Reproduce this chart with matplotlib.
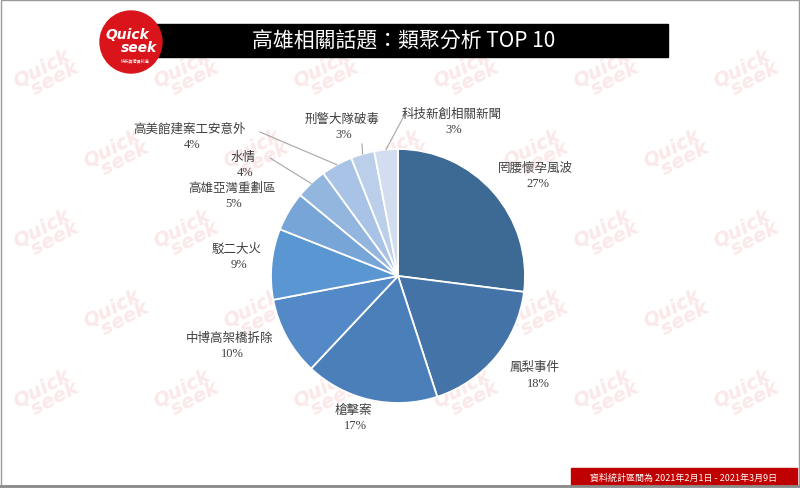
import matplotlib
matplotlib.use('Agg')
from matplotlib import pyplot as plt
from matplotlib.patches import Rectangle, Circle
import numpy as np

plt.rcParams['font.family'] = ['Noto Sans CJK TC', 'DejaVu Sans']

# data
topics = ['罔腰懷孕風波', '鳳梨事件', '槍擊案', '中博高架橋拆除', '駁二大火',
          '高雄亞灣重劃區', '水情', '高美館建案工安意外', '刑警大隊破毒', '科技新創相關新聞']
shares = [27, 18, 17, 10, 9, 5, 4, 4, 3, 3]
colors = ['#3d6a94', '#4473a8', '#4a7fb9', '#5289c6', '#5a96d2',
          '#77a5d8', '#93b6df', '#a8c3e5', '#bccfea', '#d2ddf0']

title = '高雄相關話題：類聚分析 TOP 10'
footer = '資料統計區間為 2021年2月1日 - 2021年3月9日'

W, H = 800, 489

def px(x, y):
    # pixel coords (y from top) -> axes coords
    return x, H - y

# label positions (name centre, pixel coords from top)
label_pos = [(535, 168), (535, 368), (353, 410), (230, 338), (237, 249),
             (232, 188), (243, 157), (190, 129), (342, 119), (452, 114)]
# leader lines start (only small slices)
leader_start = {6: (270, 159), 7: (260, 133), 8: (362, 145), 9: (405, 115)}

fig = plt.figure(figsize=(8, 4.89), dpi=100)
ax = fig.add_axes([0, 0, 1, 1])

# watermark
for row, yy in enumerate(range(75, H - 20, 80)):
    off = (row % 2) * 70
    for xx in range(45 + off, W - 30, 140):
        ax.text(xx, H - yy, 'Quick\n  seek', fontsize=14, fontweight='bold', style='italic',
                color='#fbe8e8', rotation=28, ha='center', va='center',
                linespacing=0.75, zorder=0, family='DejaVu Sans')

cx, cy = px(398, 277)
wedges, _ = ax.pie(shares, colors=colors, startangle=90, counterclock=False,
                   center=(cx, cy), radius=127, frame=True,
                   wedgeprops=dict(edgecolor='white', linewidth=1.3))
ax.set_xlim(0, W)
ax.set_ylim(0, H)
ax.axis('off')

for i, (name, val) in enumerate(zip(topics, shares)):
    lx, ly = px(*label_pos[i])
    ax.text(lx, ly, name, fontsize=9, color='#404040', ha='center', va='center', zorder=5)
    ax.text(lx + (3 if i < 2 else 2), ly - 16, f'{val}%', fontsize=9, color='#404040',
            ha='center', va='center', zorder=5, family='Liberation Serif')
    if i in leader_start:
        w = wedges[i]
        mid = np.deg2rad((w.theta1 + w.theta2) / 2)
        ex, ey = cx + 127 * np.cos(mid), cy + 127 * np.sin(mid)
        sx, sy = px(*leader_start[i])
        ax.plot([sx, ex], [sy, ey], color='#a6a6a6', lw=0.8, zorder=4)

# title bar
ax.add_patch(Rectangle(px(140, 58), 528, 33, color='black', zorder=6))
tx, ty = px(404, 41)
ax.text(tx, ty, title, fontsize=15, color='white',
        ha='center', va='center', zorder=7)

# logo
lx, ly = px(131, 43)
ax.add_patch(Circle((lx, ly), 31, color='#d9141b', zorder=8))
ax.text(lx - 4, ly + 8, 'Quick', fontsize=10, fontweight='bold', style='italic',
        color='white', ha='center', va='center', zorder=9, family='DejaVu Sans')
ax.text(lx + 8, ly - 5, 'seek', fontsize=10, fontweight='bold', style='italic',
        color='white', ha='center', va='center', zorder=9, family='DejaVu Sans')
ax.text(lx + 4, ly - 18, '快析輿情資料庫', fontsize=3, color='white',
        ha='center', va='center', zorder=9)

# footer
ax.add_patch(Rectangle(px(571, 486), 226, 17, color='#c00000', zorder=6))
fx, fy = px(684, 478)
ax.text(fx, fy, footer, fontsize=6.5, color='white', ha='center', va='center', zorder=7)

# frame
ax.add_patch(Rectangle((0.5, 2), W - 1.5, H - 2.5, fill=False, edgecolor='#9a9a9a', lw=1, zorder=10))
ax.plot([0, W], [2.5, 2.5], color='#8a8a8a', lw=2, zorder=10)

fig.savefig('out.png', dpi=100)
